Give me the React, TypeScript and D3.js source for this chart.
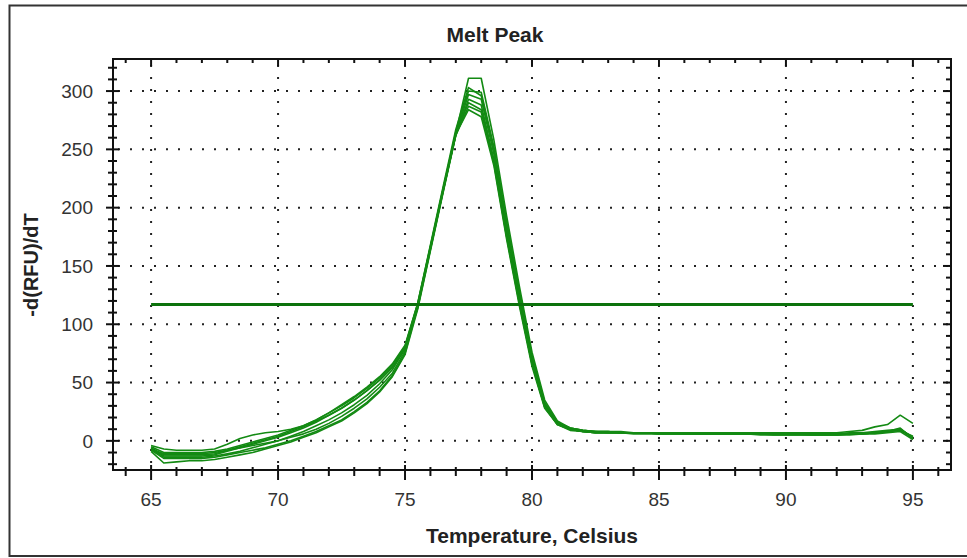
import React from 'react';
import * as d3 from 'd3';

// temperature steps, 65 to 95 every 0.5 degree
const temps = [
  65, 65.5, 66, 66.5, 67, 67.5, 68, 68.5, 69, 69.5, 70, 70.5, 71, 71.5, 72, 72.5, 73, 73.5, 74, 74.5,
  75, 75.5, 76, 76.5, 77, 77.5, 78, 78.5, 79, 79.5, 80, 80.5, 81, 81.5, 82, 82.5, 83, 83.5, 84, 84.5,
  85, 85.5, 86, 86.5, 87, 87.5, 88, 88.5, 89, 89.5, 90, 90.5, 91, 91.5, 92, 92.5, 93, 93.5, 94, 94.5, 95,
];

const well1 = [-6,-13,-13,-13,-13,-12,-9,-6,-3,0,3,7,11,16,22,28,35,43,52,63,79,114,164,214,264,311,311,258,193,133,76,35,17,11,9,8,8,7,7,7,7,7,7,7,6,6,6,6,6,6,6,6,6,6,6,6,7,7,8,9,3];
const well2 = [-4,-7,-8,-8,-8,-7,-3,2,5,7,8,10,13,18,24,30,37,45,54,65,81,118,168,218,267,303,296,250,186,127,72,32,16,11,9,8,8,8,7,7,7,7,7,7,7,7,6,6,6,6,6,6,6,6,6,7,7,8,9,10,2];
const well3 = [-7,-14,-14,-14,-14,-13,-11,-9,-6,-3,0,4,8,13,18,24,31,39,49,61,79,116,166,216,265,300,299,252,188,129,73,33,16,11,9,8,8,7,7,7,7,7,7,6,6,6,6,6,6,6,6,6,6,6,6,6,6,7,8,9,4];
const well4 = [-8,-15,-15,-15,-15,-14,-12,-10,-8,-6,-3,0,4,8,13,18,25,33,43,56,75,115,165,215,263,297,293,246,182,124,70,31,15,10,8,8,7,7,7,7,7,7,6,6,6,6,6,6,6,6,6,6,5,5,5,6,6,7,8,10,3];
const well5 = [-9,-19,-18,-17,-17,-16,-14,-12,-10,-7,-4,-1,3,7,12,17,24,32,42,55,74,113,163,213,262,293,288,241,178,121,68,30,15,10,8,7,7,7,7,7,6,6,6,6,6,6,6,6,6,5,5,5,5,5,5,5,6,6,7,8,1];
const well6 = [-6,-12,-12,-12,-12,-11,-8,-5,-2,1,4,8,12,17,22,28,35,43,52,63,80,117,166,215,263,290,284,240,176,119,66,29,14,9,8,7,7,7,6,6,6,6,6,6,6,6,6,6,5,5,5,5,5,5,5,6,6,7,8,11,2];
const well7 = [-7,-11,-11,-11,-11,-10,-8,-6,-4,-2,0,3,6,10,15,21,28,36,46,58,77,116,165,214,262,287,282,238,175,118,66,29,14,10,8,7,7,7,7,7,6,6,6,6,6,6,6,6,6,6,6,6,6,6,6,6,7,7,8,10,3];
const well8 = [-5,-10,-10,-10,-10,-9,-7,-4,-1,2,5,9,13,18,24,31,38,46,55,66,82,118,167,216,263,284,278,236,173,116,64,28,14,10,8,7,7,7,7,7,7,7,7,7,7,7,7,7,7,7,7,7,7,7,7,8,9,12,14,22,15];
const wells = [well1, well2, well3, well4, well5, well6, well7, well8];

const threshold = 117;
const xTicks = [65, 70, 75, 80, 85, 90, 95];
const yTicks = [0, 50, 100, 150, 200, 250, 300];

export default function App() {
  const width = 967;
  const height = 558;
  const left = 113, right = 951, top = 59, bottom = 470;

  const x = d3.scaleLinear().domain([63.5, 96.5]).range([left, right]);
  const y = d3.scaleLinear().domain([-25, 327.5]).range([bottom, top]);

  const line = d3.line<number>()
    .x((d, i) => x(temps[i]))
    .y(d => y(d));

  const xMinor = d3.range(64, 97, 1).filter(v => v % 5 !== 0);
  const yMinor = d3.range(-20, 330, 10).filter(v => v % 50 !== 0);

  const font = 'Arial, "Liberation Sans", sans-serif';

  return (
    <svg width={width} height={height} style={{position: 'absolute', left: 0, top: 0, background: '#fff'}}>
      <rect x={9.5} y={5.5} width={970} height={550.5} fill="#fff" stroke="#333" strokeWidth={2} />

      <text x={495} y={42} textAnchor="middle" fontFamily={font} fontWeight="bold" fontSize={21} fill="#222">Melt Peak</text>

      {/* dotted grid */}
      <g stroke="#222" strokeWidth={2} strokeDasharray="2,10">
        {xTicks.map(t => (
          <line key={'gx' + t} x1={x(t)} x2={x(t)} y1={top + 6} y2={bottom} />
        ))}
        {yTicks.map(t => (
          <line key={'gy' + t} x1={left + 5} x2={right} y1={y(t)} y2={y(t)} />
        ))}
      </g>

      {/* curves */}
      <g fill="none" stroke="#138a13" strokeWidth={1.6} strokeLinejoin="round">
        {wells.map((w, i) => <path key={i} d={line(w) || ''} />)}
      </g>
      <line x1={x(65)} x2={x(95)} y1={y(threshold)} y2={y(threshold)} stroke="#0c720c" strokeWidth={3} />

      {/* frame */}
      <rect x={left} y={top} width={right - left} height={bottom - top} fill="none" stroke="#111" strokeWidth={2} />

      <g stroke="#111" strokeWidth={2}>
        {xTicks.map(t => (
          <g key={'xt' + t}>
            <line x1={x(t)} x2={x(t)} y1={bottom - 5} y2={bottom + 10} />
            <line x1={x(t)} x2={x(t)} y1={top} y2={top + 7} />
          </g>
        ))}
        {xMinor.map(t => (
          <g key={'xm' + t}>
            <line x1={x(t)} x2={x(t)} y1={bottom - 3} y2={bottom + 6} />
            <line x1={x(t)} x2={x(t)} y1={top} y2={top + 4} />
          </g>
        ))}
        {yTicks.map(t => (
          <g key={'yt' + t}>
            <line x1={left - 7} x2={left + 6} y1={y(t)} y2={y(t)} />
            <line x1={right - 8} x2={right} y1={y(t)} y2={y(t)} />
          </g>
        ))}
        {yMinor.map(t => (
          <g key={'ym' + t}>
            <line x1={left - 5} x2={left + 4} y1={y(t)} y2={y(t)} />
            <line x1={right - 5} x2={right} y1={y(t)} y2={y(t)} />
          </g>
        ))}
      </g>

      <g fontFamily={font} fontSize={19} fill="#333">
        {yTicks.map(t => (
          <text key={'yl' + t} x={93} y={y(t)} dy="0.36em" textAnchor="end">{t}</text>
        ))}
        {xTicks.map(t => (
          <text key={'xl' + t} x={x(t)} y={506} textAnchor="middle">{t}</text>
        ))}
      </g>

      <text x={(left + right) / 2} y={543} textAnchor="middle" fontFamily={font} fontWeight="bold" fontSize={21} fill="#222">Temperature, Celsius</text>
      <text transform={`translate(38,${265}) rotate(-90)`} textAnchor="middle" fontFamily={font} fontWeight="bold" fontSize={20} fill="#222">-d(RFU)/dT</text>
    </svg>
  );
}
